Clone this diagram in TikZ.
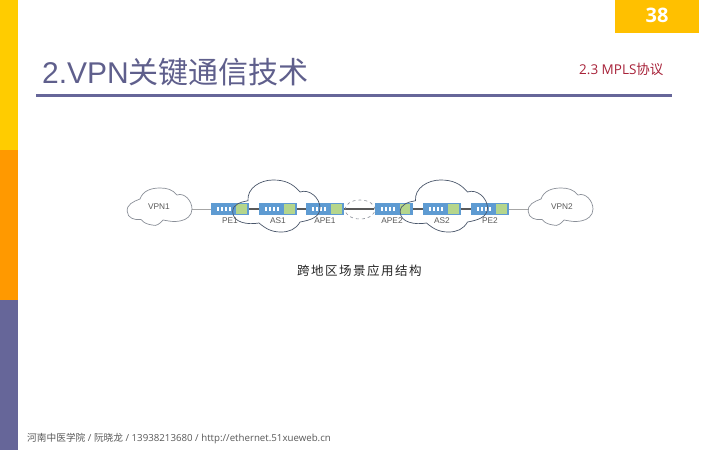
\documentclass[tikz,border=0pt]{standalone}
\usepackage{fontspec}
\usetikzlibrary{shapes.geometric}
\setmainfont{Liberation Sans}
\newfontfamily\cjk{Noto Sans CJK SC}
\newfontfamily\opensans{Open Sans}
\definecolor{sideY}{HTML}{FFCC00}
\definecolor{sideO}{HTML}{FF9900}
\definecolor{sideP}{HTML}{666699}
\definecolor{numbox}{HTML}{FFC000}
\definecolor{titlec}{HTML}{5F5F8C}
\definecolor{redc}{HTML}{A8233A}
\definecolor{swblue}{HTML}{5E9BD2}
\definecolor{swgreen}{HTML}{B5D68C}
\definecolor{cloudc}{HTML}{8A8F98}
\definecolor{darkc}{HTML}{2F3F58}
\tikzset{
  x=1pt,y=-1pt,
  swbox/.style={rectangle,draw=none,fill=swblue,minimum width=38pt,minimum height=12.5pt,inner sep=0pt,
    path picture={
      \coordinate (w) at (path picture bounding box.west);
      \fill[swgreen] ([xshift=25pt,yshift=-4.8pt]w) rectangle ([xshift=35.5pt,yshift=4.8pt]w);
      \foreach \k in {6,10,14,18}{\fill[white] ([xshift=\k pt,yshift=-2pt]w) rectangle ([xshift=\k pt+2.4pt,yshift=2pt]w);}
    }},
  swlabel/.style={font=\fontsize{8.3}{9}\selectfont,text=black!65,inner sep=0pt},
  thin link/.style={draw=black!35,line width=0.8pt},
  thick link/.style={draw=black!65,line width=1.2pt},
  cloudline/.style={draw=cloudc,line width=0.7pt},
  ascloud/.style={draw=darkc!70!cloudc,line width=0.7pt},
}
\newcommand{\vpncloud}{(127.3,211.7) to[out=100,in=200] (140,199) to[out=70,in=180] (160,188) to[out=0,in=130] (177,195) to[out=20,in=90] (192,209) to[out=270,in=10] (180,221) to[out=190,in=350] (163,220) to[out=230,in=340] (152,225) to[out=170,in=310] (141,219.5) to[out=190,in=270] cycle}
\newcommand{\ascloudpath}{(232.7,211.7) to[out=90,in=190] (248,200.7) to[out=95,in=180] (273,180) to[out=0,in=130] (300,192) to[out=20,in=90] (320,208) to[out=270,in=10] (300,222) to[out=240,in=0] (281,232) to[out=180,in=320] (259,223) to[out=190,in=270] cycle}
\begin{document}
\begin{tikzpicture}
\useasboundingbox (0,0) rectangle (720,450);
\fill[white] (0,0) rectangle (720,450);
\fill[sideY] (0,0) rectangle (18,150);
\fill[sideO] (0,150) rectangle (18,300);
\fill[sideP] (0,300) rectangle (18,450);
\fill[numbox] (615,0) rectangle (699,33);
\node[text=white,font=\opensans\bfseries\fontsize{20}{22}\selectfont,inner sep=0pt] (num) at (657,15) {38};
\node[anchor=west,inner sep=0pt,text=titlec,font=\fontsize{30}{32}\selectfont] (title) at (42,72) {2.VPN{\cjk 关键通信技术}};
\coordinate (ruleL) at (36,95.5);
\coordinate (ruleR) at (672,95.5);
\draw[sideP,line width=2.6pt] (ruleL) -- (ruleR);
\node[anchor=west,inner sep=0pt,text=redc,font=\opensans\fontsize{13.5}{15}\selectfont] (sec) at (579,69) {2.3 MPLS{\cjk 协议}};
% switches
\node[swbox] (pe1) at (230,209) {};
\node[swbox] (as1) at (278,209) {};
\node[swbox] (ape1) at (325,209) {};
\node[swbox] (ape2) at (393.5,209) {};
\node[swbox] (as2) at (442,209) {};
\node[swbox] (pe2) at (490,209) {};
\coordinate (vpn1e) at (191.5,209);
\coordinate (vpn2w) at (529,209);
\draw[thin link] (vpn1e) -- (pe1.west);
\draw[thin link] (pe2.east) -- (vpn2w);
\draw[thick link] (pe1) -- (as1);
\draw[thick link] (as1) -- (ape1);
\draw[thick link] (ape1) -- (ape2);
\draw[thick link] (ape2) -- (as2);
\draw[thick link] (as2) -- (pe2);
% clouds
\draw[cloudline] \vpncloud;
\draw[cloudline,xshift=401pt] \vpncloud;
\draw[ascloud] \ascloudpath;
\draw[ascloud,xshift=167.5pt] \ascloudpath;
\node[draw=cloudc,dashed,line width=0.6pt,ellipse,minimum width=30pt,minimum height=19pt,inner sep=0pt] (mid) at (360,209.5) {};
% labels
\node[swlabel] (lv1) at (159,206.5) {VPN1};
\node[swlabel] (lv2) at (562,206.5) {VPN2};
\node[swlabel] (l1) at (230,221) {PE1};
\node[swlabel] (l2) at (278,221) {AS1};
\node[swlabel] (l3) at (325,221) {APE1};
\node[swlabel] (l4) at (392,221) {APE2};
\node[swlabel] (l5) at (442,221) {AS2};
\node[swlabel] (l6) at (490,221) {PE2};
\node[inner sep=0pt,text=black!85,font=\cjk\fontsize{12.5}{14}\selectfont,anchor=west] (cap) at (297,271) {跨\hspace{1.5pt}地\hspace{1.5pt}区\hspace{1.5pt}场\hspace{1.5pt}景\hspace{1.5pt}应\hspace{1.5pt}用\hspace{1.5pt}结\hspace{1.5pt}构};
\node[anchor=west,inner sep=0pt,text=black!65,font=\opensans\fontsize{9.7}{12}\selectfont] (foot) at (27,439) {{\cjk 河南中医学院} / {\cjk 阮晓龙} / 13938213680 / http://ethernet.51xueweb.cn};
\end{tikzpicture}
\end{document}
